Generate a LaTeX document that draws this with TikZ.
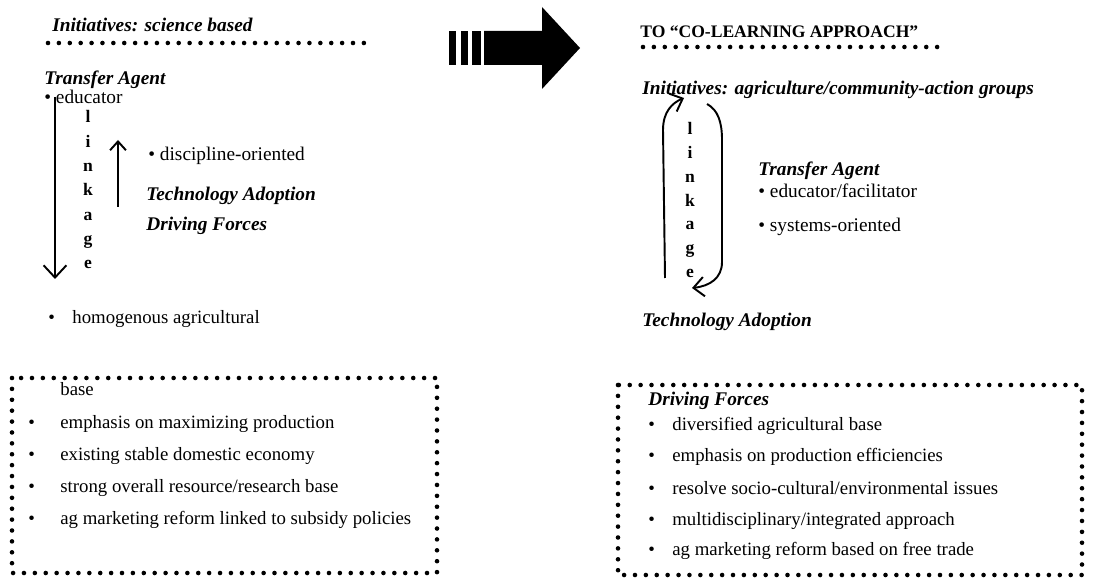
\documentclass[tikz,border=0pt]{standalone}
\usepackage{fontspec}
\setmainfont{Liberation Serif}
\usepackage{tikz}
\usetikzlibrary{arrows.meta}

\tikzset{
  lbl/.style={anchor=base west, inner sep=0pt, font=\fontsize{11}{13}\selectfont},
  boxitem/.style={lbl, font=\fontsize{10.7}{13}\selectfont},
  head/.style={lbl, font=\fontsize{11}{13}\selectfont\bfseries\itshape},
  letter/.style={anchor=base, inner sep=0pt, font=\fontsize{10}{12}\selectfont\bfseries},
  dotline/.style={line width=2.6pt, line cap=round, dash pattern=on 0pt off 6.2pt},
  link/.style={line width=1.1pt, -{Straight Barb[length=7pt, width=13pt]}},
}

\begin{document}
\begin{tikzpicture}[x=0.02cm, y=-0.02cm]
                \useasboundingbox (0,0) rectangle (1094,580);
                % from: science based
                \node[head] (initL) at (52,32) {Initiatives: science based};
                \draw[dotline] (48,43) -- (368,43);
                \node[head] (agentL) at (44,85) {Transfer Agent};
                \node[lbl] (eduL) at (44,104) {\textbullet\ educator};
                \foreach \ch [count=\i from 0] in {l,i,n,k,a,g,e}
                    \node[letter] (lkL\i) at (88,123+24.3*\i) {\ch};
                \coordinate (dnTop) at (55,97);
                \coordinate (dnEnd) at (55,279);
                \draw[link] (dnTop) -- (dnEnd);
                \coordinate (upBot) at (118,207);
                \coordinate (upEnd) at (118,140);
                \draw[link, -{Straight Barb[length=5pt, width=9pt]}] (upBot) -- (upEnd);
                \node[lbl] (discL) at (148,161) {\textbullet\ discipline-oriented};
                \node[head] (techL) at (146,201) {Technology Adoption};
                \node[head] (drivL) at (146,231) {Driving Forces};
                \node[boxitem] (homB) at (48,324) {\textbullet};
                \node[boxitem] (homL) at (72,324) {homogenous agricultural};
                \draw[dotline] (12,378) rectangle (437,573);
                \node[boxitem] (baseL) at (60,396) {base};
                \foreach \yy/\t [count=\i] in {428/{emphasis on maximizing production},
                        460/{existing stable domestic economy},
                        492/{strong overall resource/research base},
                        524/{ag marketing reform linked to subsidy policies}} {
                    \node[boxitem] (bL\i) at (28,\yy) {\textbullet};
                    \node[boxitem] (iL\i) at (60,\yy) {\t};
                }
                % the big arrow
                \fill (449,31) rectangle (456,65);
                \fill (461,31) rectangle (468,65);
                \fill (472,31) rectangle (481,65);
                \fill (484,31) -- (542,31) -- (542,7) -- (580,48) -- (542,89)
                    -- (542,65) -- (484,65) -- cycle;
                % to: co-learning approach
                \node[lbl, font=\fontsize{10}{12}\selectfont\bfseries] (toR) at (640,38)
                    {TO ``CO-LEARNING APPROACH''};
                \draw[dotline] (643,47) -- (945,47);
                \node[head] (initR) at (642,95) {Initiatives: agriculture/community-action groups};
                \foreach \ch [count=\i from 0] in {l,i,n,k,a,g,e}
                    \node[letter] (lkR\i) at (690,135+23.7*\i) {\ch};
                \coordinate (lpA) at (665,278);
                \coordinate (lpB) at (684,98);
                \coordinate (lpC) at (707,104);
                \coordinate (lpD) at (692,288);
                \draw[link, -{Straight Barb[length=6pt, width=11pt]}] (lpA) -- (663,130)
                    .. controls (663,112) and (672,103) .. (lpB);
                \draw[link, -{Straight Barb[length=6pt, width=11pt]}] (lpC)
                    .. controls (718,110) and (722,122) .. (722,140) -- (722,262)
                    .. controls (722,278) and (710,286) .. (lpD);
                \node[head] (agentR) at (758,176) {Transfer Agent};
                \node[lbl] (eduR) at (758,198) {\textbullet\ educator/facilitator};
                \node[lbl] (sysR) at (758,232) {\textbullet\ systems-oriented};
                \node[head] (techR) at (642,327) {Technology Adoption};
                \draw[dotline] (618,385) rectangle (1082,575);
                \node[head] (drivR) at (648,405) {Driving Forces};
                \foreach \yy/\t [count=\i] in {430/{diversified agricultural base},
                        461/{emphasis on production efficiencies},
                        494/{resolve socio-cultural/environmental issues},
                        525/{multidisciplinary/integrated approach},
                        555/{ag marketing reform based on free trade}} {
                    \node[boxitem] (bR\i) at (648,\yy) {\textbullet};
                    \node[boxitem] (iR\i) at (672,\yy) {\t};
                }
            \end{tikzpicture}
\end{document}
